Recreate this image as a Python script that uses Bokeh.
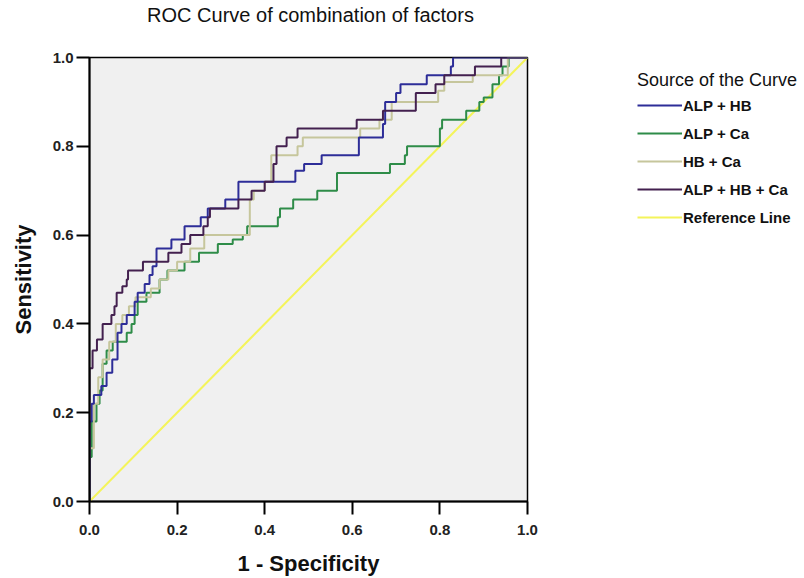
from bokeh.plotting import figure
from bokeh.models import Range1d, Legend, LegendItem, FixedTicker
from bokeh.layouts import column, row
from bokeh.core.properties import value
from bokeh.embed import file_html
from bokeh.resources import INLINE

# ---- data ----
chart_title = "ROC Curve of combination of factors"
legend_title = "Source of the Curve"
series_names = ["ALP + HB", "ALP + Ca", "HB + Ca", "ALP + HB + Ca", "Reference Line"]

alp_hb_fpr = [0, 0, 0.005, 0.01, 0.027, 0.039, 0.052, 0.064, 0.073, 0.085,
              0.103, 0.11, 0.126, 0.137, 0.144, 0.153, 0.187, 0.217, 0.254, 0.27,
              0.31, 0.34, 0.47, 0.49, 0.53, 0.615, 0.67, 0.675, 0.70, 0.71,
              0.77, 0.825, 0.83, 1.0]
alp_hb_tpr = [0, 0.18, 0.22, 0.24, 0.26, 0.29, 0.32, 0.38, 0.40, 0.42,
              0.45, 0.47, 0.49, 0.51, 0.53, 0.57, 0.59, 0.62, 0.64, 0.66,
              0.68, 0.72, 0.745, 0.76, 0.78, 0.82, 0.85, 0.90, 0.92, 0.94,
              0.96, 0.98, 1.0, 1.0]

alp_ca_fpr = [0, 0, 0.005, 0.016, 0.023, 0.03, 0.039, 0.053, 0.085, 0.096,
              0.103, 0.11, 0.13, 0.16, 0.178, 0.217, 0.25, 0.293, 0.327, 0.35,
              0.36, 0.43, 0.435, 0.465, 0.52, 0.565, 0.686, 0.72, 0.725, 0.80,
              0.805, 0.86, 0.89, 0.90, 0.92, 0.935, 0.943, 0.957, 1.0]
alp_ca_tpr = [0, 0.10, 0.18, 0.22, 0.25, 0.31, 0.34, 0.36, 0.38, 0.40,
              0.42, 0.45, 0.47, 0.50, 0.52, 0.54, 0.56, 0.58, 0.59, 0.60,
              0.62, 0.64, 0.66, 0.68, 0.70, 0.74, 0.76, 0.78, 0.80, 0.84,
              0.86, 0.88, 0.90, 0.91, 0.94, 0.96, 0.98, 1.0, 1.0]

hb_ca_fpr = [0, 0, 0.01, 0.02, 0.03, 0.045, 0.06, 0.075, 0.09, 0.105,
             0.14, 0.16, 0.18, 0.20, 0.23, 0.262, 0.366, 0.375, 0.40, 0.415,
             0.475, 0.487, 0.618, 0.662, 0.69, 0.796, 0.81, 0.875, 0.955, 1.0]
hb_ca_tpr = [0, 0.12, 0.22, 0.28, 0.32, 0.36, 0.40, 0.42, 0.44, 0.46,
             0.48, 0.50, 0.52, 0.54, 0.57, 0.60, 0.68, 0.70, 0.72, 0.78,
             0.80, 0.82, 0.84, 0.86, 0.90, 0.925, 0.945, 0.96, 1.0, 1.0]

all3_fpr = [0, 0, 0.007, 0.017, 0.03, 0.05, 0.057, 0.062, 0.075, 0.085,
            0.088, 0.122, 0.18, 0.21, 0.23, 0.26, 0.27, 0.275, 0.34, 0.37,
            0.40, 0.42, 0.427, 0.45, 0.475, 0.61, 0.67, 0.745, 0.79, 0.81,
            0.88, 0.94, 1.0]
all3_tpr = [0, 0.30, 0.34, 0.365, 0.40, 0.42, 0.44, 0.47, 0.485, 0.50,
            0.52, 0.54, 0.56, 0.58, 0.60, 0.62, 0.64, 0.66, 0.68, 0.70,
            0.72, 0.76, 0.80, 0.82, 0.84, 0.86, 0.88, 0.92, 0.94, 0.96,
            0.98, 1.0, 1.0]

ref_x = [0, 1]
ref_y = [0, 1]

tick_values = [0.0, 0.2, 0.4, 0.6, 0.8, 1.0]
tick_labels = ["0.0", "0.2", "0.4", "0.6", "0.8", "1.0"]

colors = ["#2d2d98", "#2e8c48", "#c6c69c", "#43204f", "#f4f45a"]

FONT = "Liberation Sans"

# ---- title strip ----
t = figure(width=804, height=30, output_backend="svg", toolbar_location=None,
           x_range=Range1d(0, 804), y_range=Range1d(0, 30),
           x_axis_location=None, y_axis_location=None,
           min_border=0, outline_line_color=None)
t.grid.visible = False
t.text(x=[310], y=[15.5], text=[chart_title], text_align="center",
       text_baseline="middle", text_font=value(FONT), text_font_size="20px",
       text_color="#111111")

# ---- main plot ----
p = figure(width=540, height=548, output_backend="svg", toolbar_location=None,
           x_range=Range1d(0, 1), y_range=Range1d(0, 1),
           min_border_left=89, min_border_right=13, min_border_top=27,
           min_border_bottom=77)

p.background_fill_color = "#f0f0f0"
p.border_fill_color = "white"
p.outline_line_color = "black"
p.outline_line_width = 1.5
p.grid.visible = False

for ax in (p.xaxis[0], p.yaxis[0]):
    ax.ticker = FixedTicker(ticks=tick_values)
    ax.major_label_overrides = {v: s for v, s in zip(tick_values, tick_labels)}
    ax.major_label_text_font = FONT
    ax.major_label_text_font_size = "15px"
    ax.major_label_text_font_style = "bold"
    ax.major_label_text_color = "#222222"
    ax.major_tick_out = 13
    ax.major_tick_in = 0
    ax.major_tick_line_width = 2
    ax.major_tick_line_color = "black"
    ax.minor_tick_line_color = None
    ax.axis_line_color = "black"
    ax.axis_line_width = 2
    ax.axis_label_text_font = FONT
    ax.axis_label_text_font_size = "22px"
    ax.axis_label_text_font_style = "bold"
    ax.axis_label_text_color = "#111111"

p.xaxis.axis_label = "1 - Specificity"
p.yaxis.axis_label = "Sensitivity"
p.xaxis.major_label_standoff = 10
p.yaxis.major_label_standoff = 3
p.xaxis.axis_label_standoff = 13
p.yaxis.axis_label_standoff = 14

series = [(alp_hb_fpr, alp_hb_tpr), (alp_ca_fpr, alp_ca_tpr),
          (hb_ca_fpr, hb_ca_tpr), (all3_fpr, all3_tpr)]

p.line(ref_x, ref_y, line_color=colors[4], line_width=2)
for i in (1, 2, 0, 3):
    fx, ty = series[i]
    p.step(fx, ty, mode="after", line_color=colors[i], line_width=2)

# ---- legend panel (same series drawn off-range so only the legend shows) ----
lg = figure(width=264, height=548, output_backend="svg", toolbar_location=None,
            x_range=Range1d(10, 11), y_range=Range1d(10, 11),
            x_axis_location=None, y_axis_location=None,
            min_border=0, outline_line_color=None)
lg.grid.visible = False
legend_renderers = [lg.step(fx, ty, mode="after", line_color=colors[i], line_width=2)
                    for i, (fx, ty) in enumerate(series)]
legend_renderers.append(lg.line(ref_x, ref_y, line_color=colors[4], line_width=2))

legend = Legend(items=[LegendItem(label=n, renderers=[r])
                       for n, r in zip(series_names, legend_renderers)],
                location=(97, 274))
legend.title = legend_title
legend.title_text_font = FONT
legend.title_text_font_size = "18px"
legend.title_text_font_style = "normal"
legend.title_text_color = "#111111"
legend.title_standoff = 4
legend.label_text_font = FONT
legend.label_text_font_size = "15px"
legend.label_text_font_style = "bold"
legend.label_text_color = "#111111"
legend.glyph_width = 45
legend.glyph_height = 20
legend.label_height = 20
legend.label_standoff = 1
legend.spacing = 8
legend.padding = 0
legend.margin = 0
legend.border_line_alpha = 0
legend.background_fill_alpha = 0
lg.add_layout(legend, "center")

layout = column(t, row(p, lg, spacing=0), spacing=0)

open("out.html", "w").write(file_html(layout, INLINE))
